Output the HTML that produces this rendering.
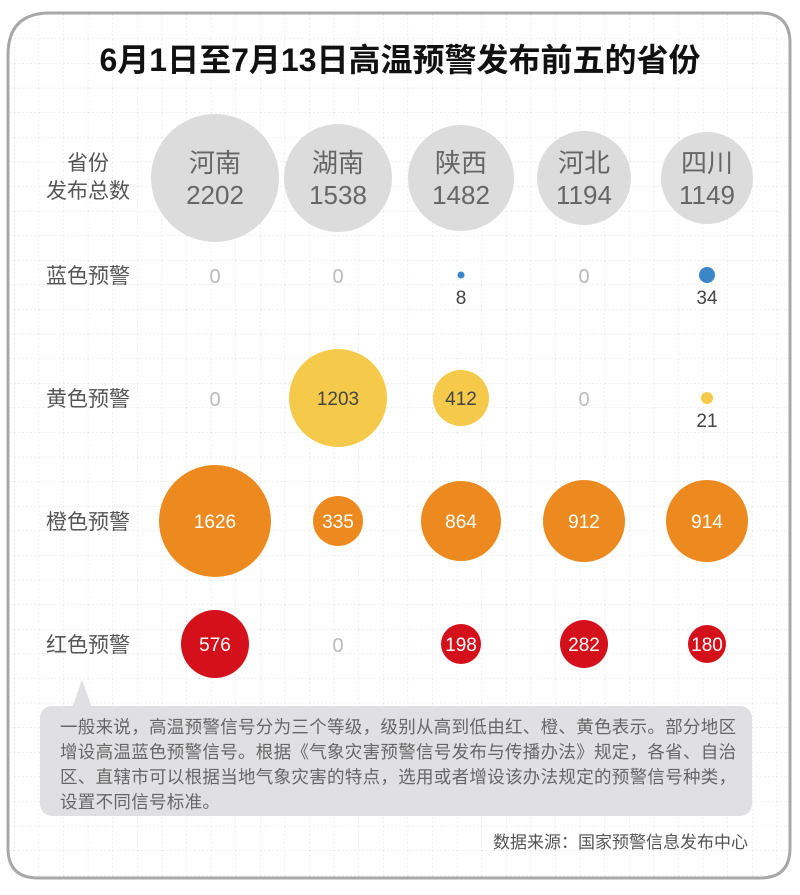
<!DOCTYPE html>
<html><head><meta charset="utf-8"><style>
body{margin:0;background:#fff;}
svg text{font-family:"Liberation Sans","Noto Sans CJK SC",sans-serif;}
</style></head><body>
<svg width="800" height="890" viewBox="0 0 800 890" xmlns="http://www.w3.org/2000/svg">
<defs>
<pattern id="g" width="24.6" height="24.6" patternUnits="userSpaceOnUse" x="14" y="14">
<path d="M0 0H24.6M0 0V24.6" stroke="#dcdcdc" stroke-width="1" stroke-dasharray="2 2" fill="none"/>
</pattern>
<clipPath id="c"><path d="M50 13H760Q790 13 790 43V848Q790 878 760 878H38Q8 878 8 848V55Q8 13 50 13Z"/></clipPath>
</defs>
<rect width="800" height="890" fill="#fff"/>
<rect width="800" height="890" fill="url(#g)" clip-path="url(#c)"/>
<path d="M50 13H760Q790 13 790 43V848Q790 878 760 878H38Q8 878 8 848V55Q8 13 50 13Z" fill="none" stroke="#a8a8a8" stroke-width="3"/>
<text x="400" y="71" font-size="32" text-anchor="middle" fill="#111" font-weight="bold">6月1日至7月13日高温预警发布前五的省份</text>
<g font-size="21" fill="#555" text-anchor="middle">
<text x="88" y="170">省份</text><text x="88" y="198">发布总数</text>
<text x="88" y="283">蓝色预警</text>
<text x="88" y="406">黄色预警</text>
<text x="88" y="529">橙色预警</text>
<text x="88" y="652">红色预警</text>
</g>
<g fill="#dcdcdc">
<circle cx="215" cy="178" r="64"/><circle cx="338" cy="178" r="54"/><circle cx="461" cy="178" r="53"/><circle cx="584" cy="178" r="47"/><circle cx="707" cy="178" r="46"/>
</g>
<g font-size="26" fill="#666" text-anchor="middle">
<text x="215" y="172">河南</text><text x="215" y="204">2202</text>
<text x="338" y="172">湖南</text><text x="338" y="204">1538</text>
<text x="461" y="172">陕西</text><text x="461" y="204">1482</text>
<text x="584" y="172">河北</text><text x="584" y="204">1194</text>
<text x="707" y="172">四川</text><text x="707" y="204">1149</text>
</g>
<g font-size="20" fill="#bbb" text-anchor="middle">
<text x="215" y="283">0</text><text x="338" y="283">0</text><text x="584" y="283">0</text>
<text x="215" y="406">0</text><text x="584" y="406">0</text>
<text x="338" y="652">0</text>
</g>
<circle cx="461" cy="275" r="3.5" fill="#3a86c8"/><circle cx="707" cy="275" r="8" fill="#3a86c8"/>
<g font-size="19" fill="#444" text-anchor="middle">
<text x="461" y="304">8</text><text x="707" y="304">34</text><text x="707" y="427">21</text>
</g>
<g fill="#f5c94a">
<circle cx="338" cy="398" r="49"/><circle cx="461" cy="398" r="28"/><circle cx="707" cy="398" r="6"/>
</g>
<g fill="#ec8a1f">
<circle cx="215" cy="521" r="56"/><circle cx="338" cy="521" r="25"/><circle cx="461" cy="521" r="40"/><circle cx="584" cy="521" r="41"/><circle cx="707" cy="521" r="41"/>
</g>
<g fill="#d4111a">
<circle cx="215" cy="644" r="34"/><circle cx="461" cy="644" r="20"/><circle cx="584" cy="644" r="24"/><circle cx="707" cy="644" r="19"/>
</g>
<g font-size="19" text-anchor="middle">
<text x="338" y="405" fill="#444">1203</text><text x="461" y="405" fill="#444">412</text>
<text x="215" y="528" fill="#fff">1626</text><text x="338" y="528" fill="#fff">335</text><text x="461" y="528" fill="#fff">864</text><text x="584" y="528" fill="#fff">912</text><text x="707" y="528" fill="#fff">914</text>
<text x="215" y="651" fill="#fff">576</text><text x="461" y="651" fill="#fff">198</text><text x="584" y="651" fill="#fff">282</text><text x="707" y="651" fill="#fff">180</text>
</g>
<path d="M72 708L82 680L92 708Z" fill="#e0e0e2"/>
<rect x="40" y="706" width="712" height="110" rx="12" fill="#e0e0e2"/>
<g font-size="17.5" fill="#666" letter-spacing="0.3">
<text x="60" y="733">一般来说，高温预警信号分为三个等级，级别从高到低由红、橙、黄色表示。部分地区</text>
<text x="60" y="758">增设高温蓝色预警信号。根据《气象灾害预警信号发布与传播办法》规定，各省、自治</text>
<text x="60" y="783">区、直辖市可以根据当地气象灾害的特点，选用或者增设该办法规定的预警信号种类，</text>
<text x="60" y="808">设置不同信号标准。</text>
</g>
<text x="748" y="848" font-size="17" fill="#555" text-anchor="end">数据来源：国家预警信息发布中心</text>
</svg>
</body></html>
